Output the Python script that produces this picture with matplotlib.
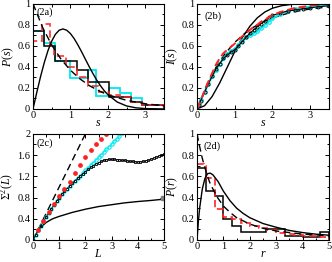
import matplotlib
matplotlib.use("Agg")
import matplotlib.pyplot as plt
from matplotlib.ticker import MultipleLocator, FuncFormatter

plt.rcParams['font.family'] = ['Liberation Serif', 'DejaVu Serif']
plt.rcParams['mathtext.fontset'] = 'custom'
plt.rcParams['mathtext.rm'] = 'Liberation Serif'
plt.rcParams['mathtext.it'] = 'Liberation Serif:italic'

CYAN = '#00e8f0'
RED = '#ff2020'

# ---------------- Panel (2a): spacing distribution ----------------
a_s_curve = [0, 0.1, 0.2, 0.3, 0.4, 0.5, 0.6, 0.7, 0.8, 0.9, 1.0, 1.1, 1.2, 1.3, 1.4,
             1.5, 1.6, 1.7, 1.8, 1.9, 2.0, 2.25, 2.5, 2.75, 3.0, 3.5]
a_wigner = [0, 0.156, 0.305, 0.439, 0.554, 0.645, 0.710, 0.748, 0.760, 0.748, 0.716,
            0.668, 0.608, 0.542, 0.472, 0.403, 0.337, 0.276, 0.222, 0.175, 0.136,
            0.066, 0.029, 0.011, 0.004, 0.0002]
a_s_pois = [0, 0.25, 0.5, 0.75, 1.0, 1.25, 1.5, 1.75, 2.0, 2.5, 3.0, 3.5]
a_poisson = [1.0, 0.779, 0.607, 0.472, 0.368, 0.287, 0.223, 0.174, 0.135, 0.082, 0.050, 0.030]

a_black_edges = [0, 0.29, 0.58, 1.17, 1.46, 2.04, 2.62, 2.92, 3.5]
a_black_h = [0.745, 0.60, 0.455, 0.37, 0.255, 0.11, 0.07, 0.04]
a_cyan_edges = [0, 0.29, 0.58, 1.0, 1.46, 1.67, 2.04, 2.33, 2.62, 2.92, 3.5]
a_cyan_h = [0.745, 0.63, 0.46, 0.29, 0.37, 0.12, 0.20, 0.15, 0.10, 0.04]
a_red_edges = [0, 0.24, 0.45, 0.55, 0.87, 1.17, 1.46, 1.75, 2.04, 2.33, 2.62, 2.92, 3.5]
a_red_h = [0.65, 0.81, 0.60, 0.50, 0.40, 0.30, 0.22, 0.16, 0.13, 0.11, 0.07, 0.04]

# ---------------- Panel (2b): cumulative distribution ----------------
b_s_curve = [0, 0.2, 0.4, 0.6, 0.8, 1.0, 1.2, 1.4, 1.6, 1.8, 2.0, 2.25, 2.5, 3.0, 3.5]
b_wigner = [0, 0.031, 0.118, 0.246, 0.395, 0.544, 0.677, 0.785, 0.866, 0.921, 0.957,
            0.981, 0.993, 0.999, 1.0]
b_s_pois = [0, 0.25, 0.5, 0.75, 1.0, 1.25, 1.5, 1.75, 2.0, 2.5, 3.0, 3.5]
b_poisson = [0, 0.221, 0.393, 0.528, 0.632, 0.713, 0.777, 0.826, 0.865, 0.918, 0.950, 0.970]
b_s_data = [0, 0.05, 0.1, 0.2, 0.3, 0.4, 0.5, 0.6, 0.7, 0.8, 0.9, 1.0, 1.1, 1.2, 1.3, 1.4,
            1.5, 1.6, 1.7, 1.8, 1.9, 2.0, 2.2, 2.4, 2.6, 2.8, 3.0, 3.2, 3.5]
b_red = [0, 0.04, 0.08, 0.17, 0.26, 0.34, 0.42, 0.48, 0.53, 0.56, 0.59, 0.62, 0.66, 0.69,
         0.72, 0.75, 0.78, 0.80, 0.83, 0.85, 0.87, 0.89, 0.92, 0.94, 0.96, 0.97, 0.98, 0.99, 1.0]
b_cyan = [0, 0.05, 0.09, 0.16, 0.24, 0.31, 0.37, 0.43, 0.48, 0.52, 0.55, 0.57, 0.61, 0.65,
          0.68, 0.70, 0.72, 0.74, 0.77, 0.80, 0.83, 0.86, 0.90, 0.93, 0.95, 0.96, 0.97, 0.98, 0.99]
b_black = [0, 0.04, 0.08, 0.16, 0.24, 0.31, 0.38, 0.43, 0.48, 0.51, 0.54, 0.56, 0.60, 0.64,
           0.68, 0.72, 0.75, 0.78, 0.81, 0.84, 0.87, 0.89, 0.91, 0.93, 0.94, 0.95, 0.96, 0.97, 0.98]

# ---------------- Panel (2c): number variance ----------------
c_L_pois = [0, 2.0]
c_pois = [0, 2.0]
c_L_goe = [0, 0.1, 0.2, 0.3, 0.5, 0.75, 1.0, 1.5, 2.0, 2.5, 3.0, 3.5, 4.0, 4.5, 5.0]
c_goe = [0, 0.10, 0.18, 0.24, 0.33, 0.40, 0.445, 0.52, 0.58, 0.63, 0.665, 0.70, 0.725, 0.745, 0.77]
c_L_red = [0.2, 0.4, 0.6, 0.8, 1.0, 1.2, 1.4, 1.6, 1.8, 2.0, 2.2, 2.4, 2.6, 2.8]
c_red = [0.19, 0.36, 0.52, 0.67, 0.82, 0.96, 1.10, 1.26, 1.42, 1.56, 1.69, 1.80, 1.90, 2.0]
c_L_cyan = [0.0, 0.1, 0.2, 0.3, 0.4, 0.5, 0.6, 0.7, 0.8, 0.9, 1.0, 1.1, 1.2, 1.3, 1.4, 1.5,
            1.6, 1.7, 1.8, 1.9, 2.0, 2.1, 2.2, 2.3, 2.4, 2.5, 2.6, 2.7, 2.8, 2.9, 3.0, 3.1,
            3.2, 3.3, 3.4]
c_cyan = [0, 0.09, 0.18, 0.27, 0.35, 0.43, 0.51, 0.59, 0.66, 0.73, 0.80, 0.86, 0.92, 0.97,
          1.02, 1.07, 1.12, 1.16, 1.21, 1.26, 1.31, 1.36, 1.41, 1.46, 1.51, 1.56, 1.61, 1.66,
          1.71, 1.76, 1.81, 1.86, 1.91, 1.96, 2.01]
c_L_black = [0.0, 0.1, 0.2, 0.3, 0.4, 0.5, 0.6, 0.7, 0.8, 0.9, 1.0, 1.1, 1.2, 1.3, 1.4, 1.5,
             1.6, 1.7, 1.8, 1.9, 2.0, 2.1, 2.2, 2.3, 2.4, 2.5, 2.6, 2.7, 2.8, 2.9, 3.0, 3.1,
             3.2, 3.3, 3.4, 3.5, 3.6, 3.7, 3.8, 3.9, 4.0, 4.1, 4.2, 4.3, 4.4, 4.5, 4.6, 4.7,
             4.8, 4.9, 5.0]
c_black = [0, 0.09, 0.18, 0.27, 0.35, 0.43, 0.51, 0.59, 0.66, 0.73, 0.80, 0.86, 0.92, 0.97,
           1.02, 1.07, 1.12, 1.16, 1.21, 1.25, 1.29, 1.33, 1.37, 1.40, 1.43, 1.46, 1.48, 1.50,
           1.51, 1.52, 1.52, 1.52, 1.51, 1.51, 1.50, 1.50, 1.49, 1.48, 1.48, 1.47, 1.47, 1.47,
           1.48, 1.49, 1.50, 1.52, 1.54, 1.56, 1.58, 1.60, 1.62]
c_L_end = [4.95]
c_end = [0.80]

# ---------------- Panel (2d): ratio distribution ----------------
d_r_goe = [0, 0.05, 0.1, 0.2, 0.3, 0.4, 0.5, 0.6, 0.8, 1.0, 1.25, 1.5, 1.75, 2.0, 2.5,
           3.0, 3.5, 4.0, 4.5, 5.0]
d_goe = [0, 0.17, 0.30, 0.48, 0.58, 0.625, 0.63, 0.615, 0.55, 0.46, 0.37, 0.30, 0.25,
         0.21, 0.155, 0.12, 0.09, 0.07, 0.055, 0.045]
d_r_pois = [0, 0.1, 0.2, 0.3, 0.4, 0.5, 0.75, 1.0, 1.25, 1.5, 2.0, 2.5, 3.0, 4.0, 5.0]
d_pois = [1.0, 0.88, 0.77, 0.68, 0.60, 0.53, 0.41, 0.32, 0.26, 0.21, 0.15, 0.11, 0.085,
          0.055, 0.04]
d_black_edges = [0, 0.33, 0.67, 1.0, 1.33, 1.67, 2.6, 3.33, 4.0, 4.67, 5.0]
d_black_h = [0.68, 0.46, 0.41, 0.20, 0.13, 0.08, 0.10, 0.04, 0.03, 0.08]
d_red_edges = [0, 0.25, 0.33, 0.67, 1.0, 1.33, 1.67, 2.0, 2.33, 2.67, 3.0, 3.33, 3.67,
               4.0, 4.33, 4.67, 5.0]
d_red_h = [0.72, 0.70, 0.58, 0.29, 0.22, 0.20, 0.16, 0.13, 0.11, 0.09, 0.07, 0.06, 0.05,
           0.04, 0.035, 0.03]

fig = plt.figure(figsize=(3.32, 2.62), dpi=100)
axa = fig.add_axes([0.0994, 0.584, 0.3946, 0.402])
axb = fig.add_axes([0.5934, 0.584, 0.3976, 0.402])
axc = fig.add_axes([0.0994, 0.084, 0.3946, 0.405])
axd = fig.add_axes([0.5934, 0.084, 0.3976, 0.405])

TF = 7.5
LF = 8.5


def yf(v, pos):
    if abs(v - round(v)) < 1e-9:
        return '%d' % round(v)
    return ('%.1f' % v)


fmt = FuncFormatter(yf)


def style(ax, xlim, ylim, xmaj, xmin, ymaj, ymin):
    ax.set_xlim(*xlim)
    ax.set_ylim(*ylim)
    ax.xaxis.set_major_locator(MultipleLocator(xmaj))
    ax.xaxis.set_minor_locator(MultipleLocator(xmin))
    ax.yaxis.set_major_locator(MultipleLocator(ymaj))
    ax.yaxis.set_minor_locator(MultipleLocator(ymin))
    ax.tick_params(which='both', direction='in', top=True, right=True,
                   labelsize=TF, width=0.7)
    ax.tick_params(axis='x', pad=1.5)
    ax.tick_params(axis='y', pad=2)
    ax.tick_params(which='major', length=3)
    ax.tick_params(which='minor', length=1.8)
    for sp in ax.spines.values():
        sp.set_linewidth(0.8)
    ax.yaxis.set_major_formatter(fmt)


# (2a)
axa.stairs(a_cyan_h, a_cyan_edges, color=CYAN, lw=1.3)
axa.stairs(a_black_h, a_black_edges, color='black', lw=1.1)
axa.stairs(a_red_h, a_red_edges, color=RED, lw=1.3, ls=(0, (4, 2)), alpha=0.85)
axa.plot(a_s_curve, a_wigner, color='black', lw=1.0)
axa.plot(a_s_pois, a_poisson, color='black', lw=1.0, ls=(0, (5, 3)))
style(axa, (0, 3.5), (0, 1), 1, 0.5, 0.2, 0.1)
axa.set_xlabel('$s$', fontsize=LF, labelpad=-2)
axa.set_ylabel('$P(s)$', fontsize=LF, labelpad=1)
axa.text(0.03, 0.965, '(2a)', transform=axa.transAxes, fontsize=TF, va='top')

# (2b)
axb.plot(b_s_curve, b_wigner, color='black', lw=1.0)
axb.plot(b_s_pois, b_poisson, color='black', lw=1.0, ls=(0, (5, 3)))
axb.plot(b_s_data, b_cyan, color=CYAN, lw=1.5, marker='o', ms=2.5, mfc='none', mew=0.9)
axb.plot(b_s_data, b_black, color='black', lw=0.8, marker='o', ms=2.2, mfc='none', mew=0.6)
axb.plot(b_s_data, b_red, color=RED, lw=1.4, ls=(0, (4, 2)))
style(axb, (0, 3.5), (0, 1), 1, 0.5, 0.2, 0.1)
axb.set_xlabel('$s$', fontsize=LF, labelpad=-2)
axb.set_ylabel('$I(s)$', fontsize=LF, labelpad=1)
axb.text(0.06, 0.93, '(2b)', transform=axb.transAxes, fontsize=TF, va='top')

# (2c)
axc.plot(c_L_pois, c_pois, color='black', lw=1.0, ls=(0, (5, 3)))
axc.plot(c_L_goe, c_goe, color='black', lw=1.0)
axc.plot(c_L_cyan, c_cyan, color=CYAN, lw=0.6, marker='o', ms=2.4, mfc='none', mew=0.8)
axc.plot(c_L_black, c_black, color='black', lw=0.5, marker='s', ms=1.9, mfc='none', mew=0.6)
axc.plot(c_L_red, c_red, color=RED, lw=0, marker='o', ms=2.4)
axc.plot(c_L_end, c_end, color='gray', lw=0, marker='s', ms=3)
style(axc, (0, 5), (0, 2), 1, 0.5, 0.4, 0.2)
axc.set_xlabel('$L$', fontsize=LF, labelpad=-2)
axc.set_ylabel(r'$\Sigma^2(L)$', fontsize=LF, labelpad=1)
axc.text(0.03, 0.955, '(2c)', transform=axc.transAxes, fontsize=TF, va='top')

# (2d)
axd.stairs(d_black_h, d_black_edges, color='black', lw=1.1)
axd.stairs(d_red_h, d_red_edges, color=RED, lw=1.3, ls=(0, (4, 2)), alpha=0.9)
axd.plot(d_r_goe, d_goe, color='black', lw=1.0)
axd.plot(d_r_pois, d_pois, color='black', lw=1.0, ls=(0, (5, 3)))
style(axd, (0, 5), (0, 1), 1, 0.5, 0.2, 0.1)
axd.set_xlabel('$r$', fontsize=LF, labelpad=-2)
axd.set_ylabel('$P(r)$', fontsize=LF, labelpad=1)
axd.text(0.05, 0.93, '(2d)', transform=axd.transAxes, fontsize=TF, va='top')

fig.savefig('out.png', dpi=100)
